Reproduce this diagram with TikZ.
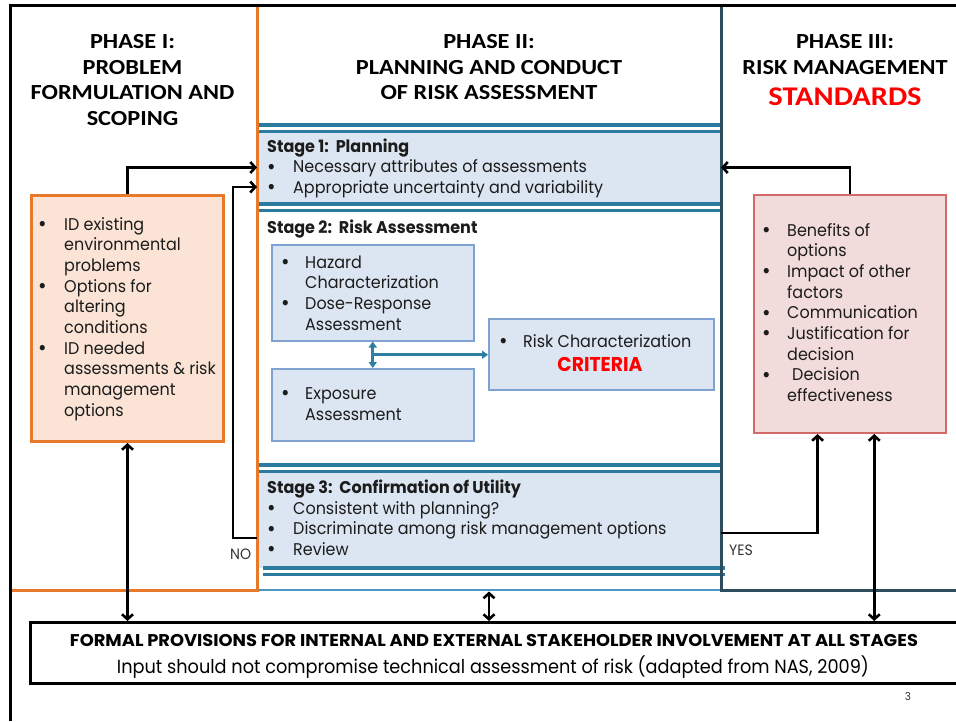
\documentclass[tikz,border=0pt]{standalone}
\usepackage{fontspec}
\usepackage{graphicx}
\usetikzlibrary{arrows.meta,calc}
\setmainfont{Poppins}[FakeStretch=0.94]
\newfontfamily\headfont{Carlito}[FakeStretch=1.13]

\definecolor{frameorange}{HTML}{E8782A}
\definecolor{phasetwo}{HTML}{4A97C2}
\definecolor{phasethree}{HTML}{2E4D5C}
\definecolor{stageline}{HTML}{2B7BA1}
\definecolor{stagefill}{HTML}{DCE6F2}
\definecolor{innerline}{HTML}{7FA2D0}
\definecolor{peachfill}{HTML}{FBE4D5}
\definecolor{pinkfill}{HTML}{F2DCDB}
\definecolor{pinkline}{HTML}{D26A6A}
\definecolor{inkgrey}{HTML}{1C1C1C}
\definecolor{labelgrey}{HTML}{333333}
\definecolor{flowblue}{HTML}{2E7EA3}

% bullet lists: a bullet column of width \bgap, continuation lines indented alike
\newlength\bgap
\setlength\bgap{26pt}
\newcommand\bl{\makebox[\bgap][l]{\raisebox{-1.3pt}{\scalebox{1.3}{\textbullet}}}}
\newcommand\ct{\hspace*{\bgap}}
\newcommand\lines[1]{\begin{tabular}[t]{@{}l@{}}#1\end{tabular}}
\newcommand\clines[1]{\begin{tabular}[t]{@{}c@{}}#1\end{tabular}}

\tikzset{
  body/.style={font=\fontsize{17}{20.7}\selectfont, text=inkgrey, inner sep=0pt, anchor=base west},
  head/.style={font=\headfont\bfseries\fontsize{21.5}{25.7}\selectfont, text=black, inner sep=0pt, anchor=base},
  lbl/.style={font=\fontsize{15}{18}\selectfont, text=labelgrey, inner sep=0pt, anchor=base west},
  stagefillbox/.style={fill=stagefill, draw=none, inner sep=0pt, outer sep=0pt},
  innerbox/.style={fill=stagefill, draw=innerline, line width=1.5pt, inner sep=0pt, anchor=north west},
  peachbox/.style={fill=peachfill, draw=frameorange, line width=3pt, inner sep=0pt, anchor=north west},
  pinkbox/.style={fill=pinkfill, draw=pinkline, line width=2pt, inner sep=0pt, anchor=north west},
  formalbox/.style={fill=white, draw=black, line width=3pt, inner sep=0pt, anchor=north west},
  rulethick/.style={stageline, line width=4pt},
  rulethin/.style={stageline, line width=3pt},
  conn/.style={black, line width=2.6pt, >={Straight Barb[length=5pt,width=11pt]}},
  flow/.style={flowblue, line width=3pt, >={Triangle[length=6pt,width=8pt]}},
}

\begin{document}
\begin{tikzpicture}[x=1pt,y=-1pt]
\useasboundingbox (0,0) rectangle (956,721);
\fill[white] (0,0) rectangle (956,721);

% stage bands of phase II
\node[stagefillbox, minimum width=464pt, minimum height=72pt] (stageA) at (489,167.5) {};
\node[stagefillbox, minimum width=464pt, minimum height=96pt] (stageC) at (489,519.5) {};
\draw[rulethick] (257,125) -- (721,125);
\draw[rulethin]  (257,131) -- (721,131);
\draw[rulethick] (257,204) -- (721,204);
\draw[rulethin]  (257,210) -- (721,210);
\draw[rulethick] (257,465) -- (721,465);
\draw[rulethin]  (257,471.5) -- (721,471.5);
\draw[rulethick] (263,568) -- (725,568);
\draw[rulethin]  (263,574.5) -- (725,574.5);

% phase columns
\draw[frameorange, line width=3pt] (257,5) -- (257,590) -- (10,590);
\draw[phasetwo, line width=2.5pt] (258.5,590) -- (721,590);
\draw[phasethree, line width=3pt] (721,5) -- (721,590) -- (960,590);
\draw[black, line width=3pt] (10,721) -- (10,5) -- (960,5);

% stage 2 boxes
\node[innerbox, minimum width=202pt, minimum height=96pt] (haz) at (271,244) {};
\node[innerbox, minimum width=202pt, minimum height=72pt] (expo) at (271,368) {};
\node[innerbox, minimum width=225pt, minimum height=71pt] (rchar) at (488,318) {};
\draw[flow, <->] (haz.south) -- (expo.north);
\coordinate (hub) at ($(haz.south)!0.5!(expo.north)$);
\draw[flow, ->] (hub) -- (hub -| rchar.west);

% side boxes and stakeholder box
\node[peachbox, minimum width=192pt, minimum height=246pt] (lbox) at (30,194) {};
\node[pinkbox, minimum width=192pt, minimum height=238pt] (pbox) at (753,194) {};
\node[formalbox, minimum width=931pt, minimum height=61pt] (fbox) at (29,621) {};

% connectors
\draw[conn, ->] (lbox.north) |- (stageA.west);
\draw[conn, ->] (pbox.north) |- (stageA.east);
\coordinate (noStart) at (257,538);
\coordinate (noEnd) at (257,187);
\draw[conn, ->] (noStart) -- ++(-24,0) |- (noEnd);
\coordinate (yesStart) at (721,533);
\coordinate (yesEnd) at ($(pbox.south west)!0.333!(pbox.south east)$);
\draw[conn, ->] (yesStart) -| (yesEnd);
\coordinate (pinkDrop) at ($(pbox.south west)!0.625!(pbox.south east)$);
\draw[conn, <->] (pinkDrop) -- (pinkDrop |- fbox.north);
\draw[conn, <->] (lbox.south) -- (lbox.south |- fbox.north);
\coordinate (midDrop) at (489,591.5);
\draw[conn, <->] (midDrop) -- (midDrop |- fbox.north);

% headings
\node[head] (h1) at (132.5,48.3) {\clines{PHASE I:\\PROBLEM\\FORMULATION AND\\SCOPING}};
\node[head] (h2) at (489,48.3) {\clines{PHASE II:\\PLANNING AND CONDUCT\\OF RISK ASSESSMENT}};
\node[head] (h3) at (845,48.3) {\clines{PHASE III:\\RISK MANAGEMENT}};
\node[head, font=\headfont\bfseries\fontsize{27}{30}\selectfont, text=red] (h3b) at (845,105) {STANDARDS};

% stage texts
\node[body] (t1) at (267,152) {\lines{\textbf{Stage 1:~~Planning}\\\bl Necessary attributes of assessments\\\bl Appropriate uncertainty and variability}};
\node[body] (t2) at (267,233.5) {\textbf{Stage 2:~~Risk Assessment}};
\node[body] (thaz) at (281,268) {\setlength\bgap{24pt}\lines{\bl Hazard\\\ct Characterization\\\bl Dose-Response\\\ct Assessment}};
\node[body] (texp) at (281,399.5) {\setlength\bgap{24pt}\lines{\bl Exposure\\\ct Assessment}};
\node[body] (trc) at (499,347.3) {\setlength\bgap{24pt}\bl Risk Characterization};
\node[font=\bfseries\fontsize{20}{24}\selectfont, text=red, inner sep=0pt, anchor=base] (tcrit) at (600,371.7) {CRITERIA};
\node[body] (t3) at (267,493.5) {\lines{\textbf{Stage 3:~~Confirmation of Utility}\\\bl Consistent with planning?\\\bl Discriminate among risk management options\\\bl Review}};

% side box texts
\node[body] (tl) at (38,230) {\lines{\bl ID existing\\\ct environmental\\\ct problems\\\bl Options for\\\ct altering\\\ct conditions\\\bl ID needed\\\ct assessments \& risk\\\ct management\\\ct options}};
\node[body] (tp) at (762,236) {\setlength\bgap{25pt}\lines{\bl Benefits of\\\ct options\\\bl Impact of other\\\ct factors\\\bl Communication\\\bl Justification for\\\ct decision\\\bl\hspace{5pt}Decision\\\ct effectiveness}};

% decision labels
\node[lbl] (no) at (230,559) {NO};
\node[lbl] (yes) at (729,555) {YES};

% stakeholder box text
\node[inner sep=0pt, anchor=base] (ftitle) at (494,646.5) {\resizebox{848pt}{\height}{\bfseries\fontsize{17}{20}\selectfont FORMAL PROVISIONS FOR INTERNAL AND EXTERNAL STAKEHOLDER INVOLVEMENT AT ALL STAGES}};
\node[inner sep=0pt, anchor=base] (fsub) at (493,673) {\resizebox{752pt}{\height}{\fontsize{19}{22}\selectfont Input should not compromise technical assessment of risk (adapted from NAS, 2009)}};
\node[inner sep=0pt, anchor=base, text=labelgrey] (pg) at (908,700) {\fontsize{11}{12}\selectfont 3};
\end{tikzpicture}
\end{document}
